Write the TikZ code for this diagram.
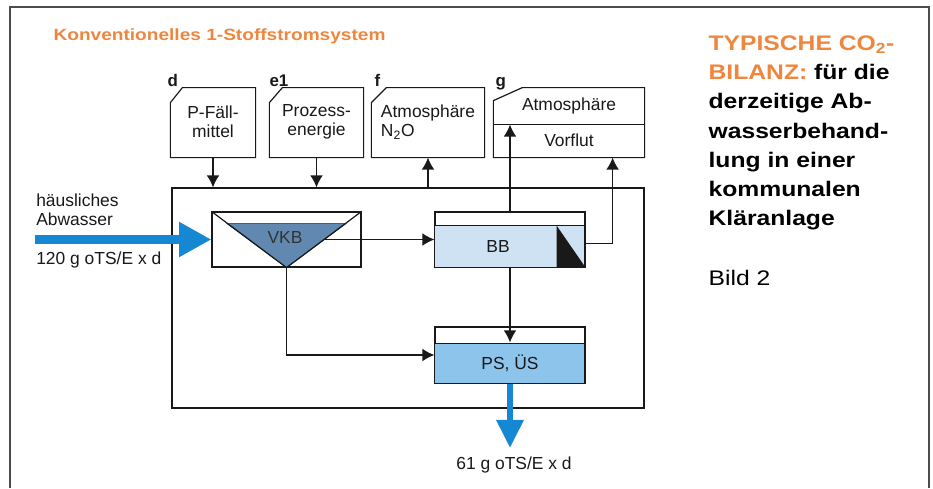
\documentclass[tikz,border=0pt]{standalone}
\usepackage{fontspec}
\setmainfont{Liberation Sans}
\newfontfamily\widesans[FakeStretch=1.17]{Liberation Sans}
\usetikzlibrary{arrows.meta}
\definecolor{kaorange}{RGB}{238,134,62}
\definecolor{flowblue}{RGB}{22,135,210}
\definecolor{vkbblue}{RGB}{96,136,176}
\definecolor{bbblue}{RGB}{206,226,243}
\definecolor{psblue}{RGB}{141,196,235}

\begin{document}
\begin{tikzpicture}[x=0.025cm,y=-0.025cm,>={Latex[length=8.5pt,width=9pt]},
  line width=0.85pt, color=black!90,
  lbl/.style={font=\fontsize{12.4}{13.5}\selectfont, align=center},
  boxtag/.style={font=\bfseries\fontsize{12}{12}\selectfont,
    anchor=base west, inner sep=0pt},
  plantbox/.style={draw, minimum height=1.375cm, inner sep=0pt},
  infl/.style={flowblue, line width=7pt,
    -{Triangle[length=23pt,width=23.5pt]}},
  outfl/.style={flowblue, line width=4.5pt,
    -{Triangle[length=20pt,width=18.5pt]}}]
  \useasboundingbox (0,0) rectangle (933,488);
  % frame
  \draw[black!70, line width=0.8pt] (10,488) -- (10,7) -- (929,7) -- (929,488);
  \node[anchor=base west, inner sep=0pt, text=kaorange,
    font=\widesans\bfseries\fontsize{11.6}{13}\selectfont]
    (title) at (53,40.5) {Konventionelles 1-Stoffstromsystem};
  \node[anchor=north west, inner sep=0pt, align=left, text=black,
    font=\widesans\bfseries\fontsize{15}{20.8}\selectfont] (caption) at (708,35)
    {\textcolor{kaorange}{TYPISCHE CO\textsubscript{2}-}\\
     \textcolor{kaorange}{BILANZ:} für die\\
     derzeitige Ab-\\
     wasserbehand-\\
     lung in einer\\
     kommunalen\\
     Kläranlage};
  \node[anchor=base west, inner sep=0pt, text=black,
    font=\widesans\fontsize{15}{18}\selectfont] (bild) at (708,285) {Bild 2};

  % inputs and outputs
  \node[lbl, minimum width=2.1cm, minimum height=1.75cm] (d) at (213,122)
    {P-Fäll-\\mittel};
  \draw (d.south west) -- ++(0,-55) -- ++(12,-15) -| (d.south east) -- cycle;
  \node[boxtag] (dtag) at (167,86) {d};
  \node[lbl, minimum width=2.325cm, minimum height=1.75cm] (e1) at (316.5,122)
    {Prozess-\\energie};
  \draw (e1.south west) -- ++(0,-55) -- ++(13,-15) -| (e1.south east) -- cycle;
  \node[boxtag] (e1tag) at (269,86) {e1};
  \node[lbl, align=left, minimum width=2.8cm, minimum height=1.75cm] (f)
    at (428,122) {Atmosphäre\\N\textsubscript{2}O};
  \draw (f.south west) -- ++(0,-55) -- ++(15,-15) -| (f.south east) -- cycle;
  \node[boxtag] (ftag) at (374,86) {f};
  \node[lbl, minimum width=3.75cm, minimum height=0.925cm] (gtop)
    at (569,105.5) {Atmosphäre};
  \node[lbl, minimum width=3.75cm, minimum height=0.825cm] (gbot)
    at (569,140.5) {Vorflut};
  \draw (gbot.south west) -- ++(0,-57) -- ++(29,-13) -| (gbot.south east) -- cycle;
  \draw (gtop.south west) -- (gtop.south east);
  \node[boxtag] (gtag) at (495,86) {g};

  % plant
  \node[draw, minimum width=11.8cm, minimum height=5.5cm] (main) at (408,298) {};
  \node[plantbox, minimum width=3.725cm] (vkb) at (286.5,239.5) {};
  \filldraw[fill=vkbblue, line width=0.4pt] (vkb.south) -- ++(-59.5,-44)
    -- ++(119,0) -- cycle;
  \draw (vkb.north west) -- (vkb.south) -- (vkb.north east);
  \node[lbl, text=black!80] (vkbl) at (285,237) {VKB};
  \node[plantbox, minimum width=3.75cm] (bb) at (510,239.5) {};
  \filldraw[fill=bbblue] (bb.south west) rectangle ++(150,-42);
  \fill (bb.south east) -- ++(-29,0) -- ++(0,-42) -- cycle;
  \node[lbl] (bbl) at (498,246) {BB};
  \node[plantbox, minimum width=3.75cm, minimum height=1.4cm] (ps) at (510,355) {};
  \filldraw[fill=psblue] (ps.south west) rectangle ++(150,-40);
  \node[lbl] (psl) at (510,363) {PS, ÜS};

  % connectors
  \draw[->] (d.south) -- (d.south |- main.north);
  \draw[->] (e1.south) -- (e1.south |- main.north);
  \draw[->] (f.south |- main.north) -- (f.south);
  \draw[->] (bb.north) -- (bb.north |- gtop.south);
  \draw[->] ([yshift=-0.1cm]bb.east) -| ([xshift=-0.8cm]gbot.south east);
  \draw[->] ([xshift=0.94cm]vkb.center) -- (bb.west);
  \draw[->] (vkb.south) |- (ps.west);
  \draw[->] (bb.south) -- ([yshift=-0.4cm]ps.north);

  % flows
  \coordinate (in) at (35,239.5);
  \draw[infl] (in) -- (vkb.west);
  \node[lbl, align=left, anchor=south west] (src) at (31,231)
    {häusliches\\Abwasser};
  \node[lbl, anchor=base west] (srcload) at (31,264) {120 g oTS/E x d};
  \coordinate (out) at (510,448);
  \draw[outfl] (ps.south) -- (out);
  \node[lbl, anchor=base] (outload) at (514,469) {61 g oTS/E x d};
\end{tikzpicture}
\end{document}
